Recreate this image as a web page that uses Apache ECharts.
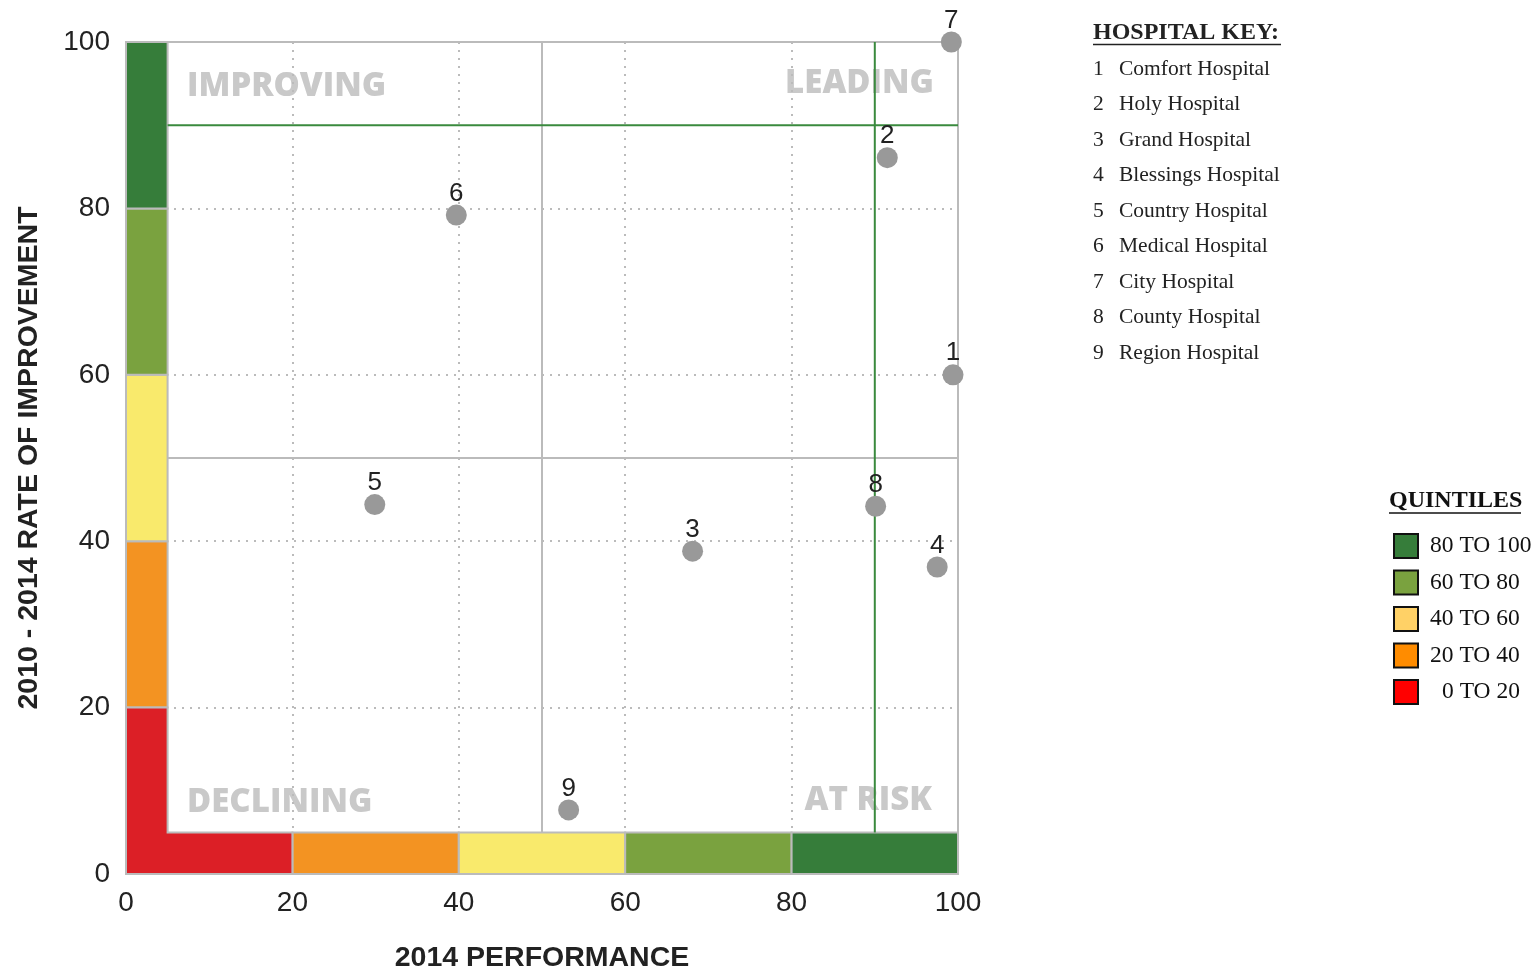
<!DOCTYPE html>
<html>
<head>
<meta charset="utf-8">
<title>Hospital Performance vs Rate of Improvement</title>
<script src="https://cdn.jsdelivr.net/npm/echarts@6/dist/echarts.min.js"></script>
<style>
  html, body { margin: 0; padding: 0; background: #fff; overflow: hidden; width: 1539px; height: 970px; }
  #chart { width: 1539px; height: 970px; display: block; }
</style>
</head>
<body>
<div id="chart"></div>
<script>
// Hospitals: 2014 performance (x) and 2010-2014 rate of improvement (y)
const hospitalIds   = [1, 2, 3, 4, 5, 6, 7, 8, 9];
const hospitalNames = ['Comfort Hospital', 'Holy Hospital', 'Grand Hospital', 'Blessings Hospital',
                       'Country Hospital', 'Medical Hospital', 'City Hospital', 'County Hospital', 'Region Hospital'];
const performance   = [99.4, 91.5, 68.1, 97.5, 29.9, 39.7, 99.2, 90.1, 53.2];
const improvement   = [60.0, 86.1, 38.8, 36.9, 44.4, 79.2, 100.0, 44.2, 7.7];

// Quintile bands shared by both axes
const quintileBounds = [[0, 20], [20, 40], [40, 60], [60, 80], [80, 100]];
const quintileColors = ['#dc1f26', '#f39322', '#f9ea6c', '#7aa23f', '#367d3a'];
const legendColors   = ['#ff0000', '#ff8c00', '#ffd166', '#7aa23f', '#367d3a'];
const legendLabels   = ['0 TO 20', '20 TO 40', '40 TO 60', '60 TO 80', '80 TO 100'];
const stripWidth = 5;

// Reference lines
const midLine = 50;
const targetLine = 90;

// Strip cells: [x0, x1, y0, y1, colorIndex]; the lowest quintile is drawn as one L shape
const stripCells = [];
quintileBounds.forEach((b, i) => {
  if (i === 0) return;
  stripCells.push([0, stripWidth, b[0], b[1], i]);        // left strip (improvement)
  stripCells.push([b[0], b[1], 0, stripWidth, i]);        // bottom strip (performance)
});
stripCells.push([0, quintileBounds[0][1], 0, quintileBounds[0][1], 0, 'L']);

const chart = echarts.init(document.getElementById('chart'), null, { renderer: 'canvas', width: 1539, height: 970 });

const labelFont = 'Liberation Sans, Arial, sans-serif';
const serifFont = 'Liberation Serif, Times New Roman, serif';

const graphics = [];
// Quadrant captions (sit beneath the grid lines)
[
  { text: 'IMPROVING', x: 187, y: 87, align: 'left' },
  { text: 'LEADING', x: 934, y: 84, align: 'right' },
  { text: 'DECLINING', x: 187, y: 803, align: 'left' },
  { text: 'AT RISK', x: 932, y: 801, align: 'right' }
].forEach(q => graphics.push({
  type: 'text', x: q.x, y: q.y, z: -1,
  style: { text: q.text, fill: '#c9c9c9', font: '800 33px "Open Sans", sans-serif',
           textAlign: q.align, textVerticalAlign: 'middle' }
}));

// Hospital key
graphics.push({
  type: 'text', x: 1093, y: 33,
  style: { text: 'HOSPITAL KEY:', fill: '#222', font: 'bold 24px ' + serifFont, textVerticalAlign: 'middle' }
});
graphics.push({ type: 'line', shape: { x1: 1093, y1: 44.5, x2: 1281, y2: 44.5 }, style: { stroke: '#222', lineWidth: 1.5 } });
hospitalIds.forEach((id, i) => {
  const y = 69 + i * 35.5;
  graphics.push({ type: 'text', x: 1093, y: y,
    style: { text: String(id), fill: '#222', font: '21.5px ' + serifFont, textVerticalAlign: 'middle' } });
  graphics.push({ type: 'text', x: 1119, y: y,
    style: { text: hospitalNames[i], fill: '#222', font: '21.5px ' + serifFont, textVerticalAlign: 'middle' } });
});

// Quintile legend
graphics.push({
  type: 'text', x: 1389, y: 501,
  style: { text: 'QUINTILES', fill: '#111', font: 'bold 24px ' + serifFont, textVerticalAlign: 'middle' }
});
graphics.push({ type: 'line', shape: { x1: 1389, y1: 513, x2: 1521, y2: 513 }, style: { stroke: '#111', lineWidth: 1.5 } });
for (let k = 0; k < 5; k++) {
  const i = 4 - k;
  const y = 546 + k * 36.5;
  graphics.push({ type: 'rect', shape: { x: 1394, y: y - 12, width: 24, height: 24 },
    style: { fill: legendColors[i], stroke: '#111', lineWidth: 2 } });
  graphics.push({ type: 'text', x: i === 0 ? 1442 : 1430, y: y,
    style: { text: legendLabels[i], fill: '#111', font: '23.5px ' + serifFont, textVerticalAlign: 'middle' } });
}

chart.setOption({
  animation: false,
  backgroundColor: '#fff',
  grid: {
    left: 126, top: 42, width: 832, height: 832,
    show: true, borderColor: '#bbb', borderWidth: 2,
    containLabel: false, outerBoundsMode: 'none'
  },
  xAxis: {
    type: 'value', min: 0, max: 100, interval: 20,
    name: '2014 PERFORMANCE', nameLocation: 'middle', nameGap: 70,
    nameTextStyle: { fontFamily: labelFont, fontWeight: 'bold', fontSize: 28.5, color: '#222' },
    axisLine: { show: false }, axisTick: { show: false },
    axisLabel: { fontFamily: labelFont, fontSize: 28, color: '#222', margin: 15 },
    splitLine: { show: true, lineStyle: { color: '#bbb', width: 2, type: [2, 6] } }
  },
  yAxis: {
    type: 'value', min: 0, max: 100, interval: 20,
    name: '2010 - 2014 RATE OF IMPROVEMENT', nameLocation: 'middle', nameGap: 82,
    nameTextStyle: { fontFamily: labelFont, fontWeight: 'bold', fontSize: 28.5, color: '#222' },
    axisLine: { show: false }, axisTick: { show: false },
    axisLabel: { fontFamily: labelFont, fontSize: 28, color: '#222', margin: 16 },
    splitLine: { show: true, lineStyle: { color: '#bbb', width: 2, type: [2, 6] } }
  },
  graphic: graphics,
  series: [
    {
      type: 'custom', z: 2, silent: true,
      data: stripCells,
      renderItem: function (params, api) {
        const x0 = api.value(0), x1 = api.value(1), y0 = api.value(2), y1 = api.value(3);
        const color = quintileColors[api.value(4)];
        const cell = stripCells[params.dataIndex];
        if (cell[5] === 'L') {
          const pts = [[x0, y0], [x1, y0], [x1, stripWidth], [stripWidth, stripWidth], [stripWidth, y1], [x0, y1]]
            .map(p => api.coord(p));
          return { type: 'polygon', shape: { points: pts }, style: { fill: color, stroke: '#bbb', lineWidth: 2 } };
        }
        const a = api.coord([x0, y1]), b = api.coord([x1, y0]);
        return { type: 'rect', shape: { x: a[0], y: a[1], width: b[0] - a[0], height: b[1] - a[1] },
                 style: { fill: color, stroke: '#bbb', lineWidth: 2 } };
      }
    },
    {
      type: 'line', z: 3, silent: true, symbol: 'none',
      data: [[midLine, stripWidth], [midLine, 100]],
      lineStyle: { color: '#bbb', width: 2 }
    },
    {
      type: 'line', z: 3, silent: true, symbol: 'none',
      data: [[stripWidth, midLine], [100, midLine]],
      lineStyle: { color: '#bbb', width: 2 }
    },
    {
      type: 'line', z: 4, silent: true, symbol: 'none',
      data: [[targetLine, stripWidth], [targetLine, 100]],
      lineStyle: { color: '#3a8a3e', width: 2 }
    },
    {
      type: 'line', z: 4, silent: true, symbol: 'none',
      data: [[stripWidth, targetLine], [100, targetLine]],
      lineStyle: { color: '#3a8a3e', width: 2 }
    },
    {
      type: 'scatter', z: 5,
      symbolSize: 21,
      itemStyle: { color: '#999', opacity: 1 },
      data: performance.map((x, i) => ({ value: [x, improvement[i]], name: hospitalNames[i] })),
      label: {
        show: true, position: 'top', distance: -2,
        formatter: p => String(hospitalIds[p.dataIndex]),
        fontFamily: labelFont, fontSize: 26, color: '#222'
      }
    }
  ]
});
</script>
</body>
</html>
